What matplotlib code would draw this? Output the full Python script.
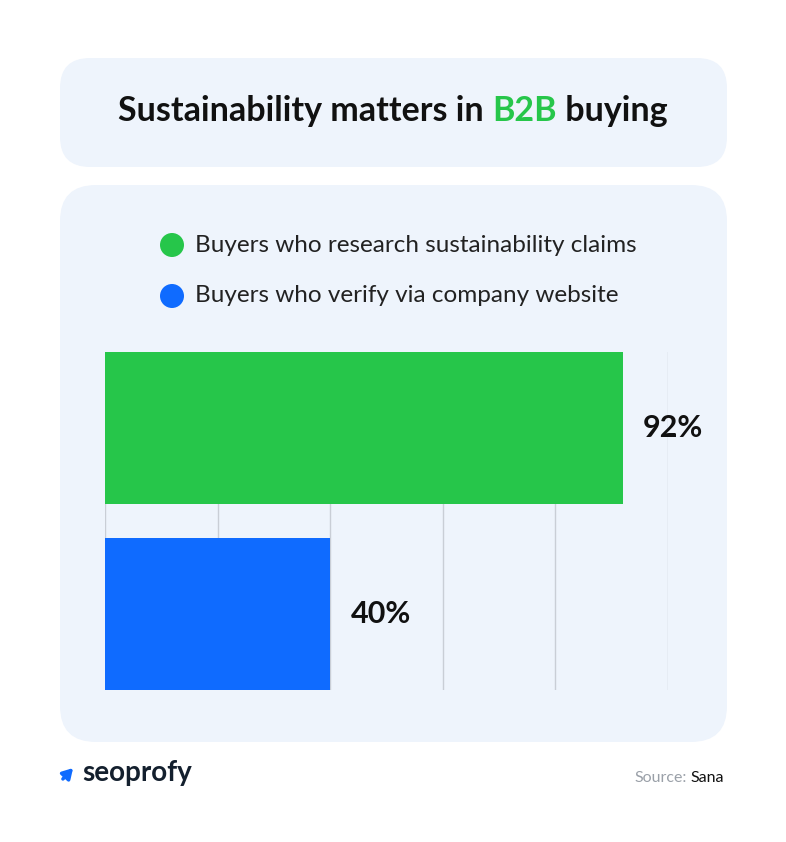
import matplotlib.pyplot as plt
from matplotlib.patches import FancyBboxPatch, Circle

categorias = ["Buyers who research sustainability claims", "Buyers who verify via company website"]
valores = [92, 40]
cores = ["#26C64A", "#0F6BFF"]
marcas_x = [0, 20, 40, 60, 80, 100]

W, H = 786, 842
fig = plt.figure(figsize=(W / 100, H / 100), dpi=100)
fig.patch.set_facecolor("white")
plt.rcParams["font.family"] = "Lato"

fundo = fig.add_axes([0, 0, 1, 1])
fundo.set_xlim(0, W)
fundo.set_ylim(H, 0)
fundo.axis("off")


def texto_em_partes(partes, x_centro, y, **kw):
    """Escreve pedaços de texto lado a lado (cores diferentes), centralizados em x_centro."""
    fig.canvas.draw()
    rend = fig.canvas.get_renderer()
    objs = [fundo.text(0, y, p, color=c, va="center", ha="left", **kw) for p, c in partes]
    larguras = [o.get_window_extent(rend).width for o in objs]
    x = x_centro - sum(larguras) / 2
    for o, w in zip(objs, larguras):
        o.set_x(x)
        x += w


caixa = "#EEF4FC"
for (x0, y0, x1, y1, r) in [(60, 58, 727, 167, 30), (60, 185, 727, 742, 36)]:
    fundo.add_patch(FancyBboxPatch((x0 + r, y0 + r), x1 - x0 - 2 * r, y1 - y0 - 2 * r,
                                   boxstyle=f"round,pad={r}", fc=caixa, ec="none"))

texto_em_partes([("Sustainability matters in ", "#111111"), ("B2B", cores[0]), (" buying", "#111111")],
                393, 111, fontsize=24.5, fontweight="bold")

# legenda
for i, (nome, cor) in enumerate(zip(categorias, cores)):
    y = 245 + 51 * i
    fundo.add_patch(Circle((172, y), 12, fc=cor, ec="none"))
    fundo.text(195, y, nome, fontsize=17.5, color="#222222", va="center", ha="left")

# rodape
fundo.annotate("", xy=(75, 766), xytext=(61, 781),
               arrowprops=dict(arrowstyle="-|>,head_length=0.6,head_width=0.35", color="#0F6BFF", lw=2.5))
fundo.text(82, 773, "seoprofy", fontsize=20, fontweight="bold", color="#14202E", va="center", ha="left")
fundo.text(724, 778, "Sana", fontsize=11.5, color="#111111", va="center", ha="right")
fundo.text(687, 778, "Source:", fontsize=11.5, color="#9AA0A8", va="center", ha="right")

# grafico de barras
ax = fig.add_axes([105 / W, (H - 690) / H, (668 - 105) / W, (690 - 352) / H])
ax.set_facecolor("none")
ax.barh([0, 1], valores, height=0.82, color=cores, zorder=2)
ax.set_xlim(0, 100)
ax.set_ylim(1.41, -0.41)
for x in marcas_x:
    ax.axvline(x, color="#C9CED6", lw=1, zorder=1)
for i, v in enumerate(valores):
    ax.text(v + 3.6, i, f"{v}%", fontsize=22, fontweight="bold", color="#111111",
            va="center", ha="left")
for s in ax.spines.values():
    s.set_visible(False)
ax.set_xticks([])
ax.set_yticks([])

fig.savefig("out.png", dpi=100)
